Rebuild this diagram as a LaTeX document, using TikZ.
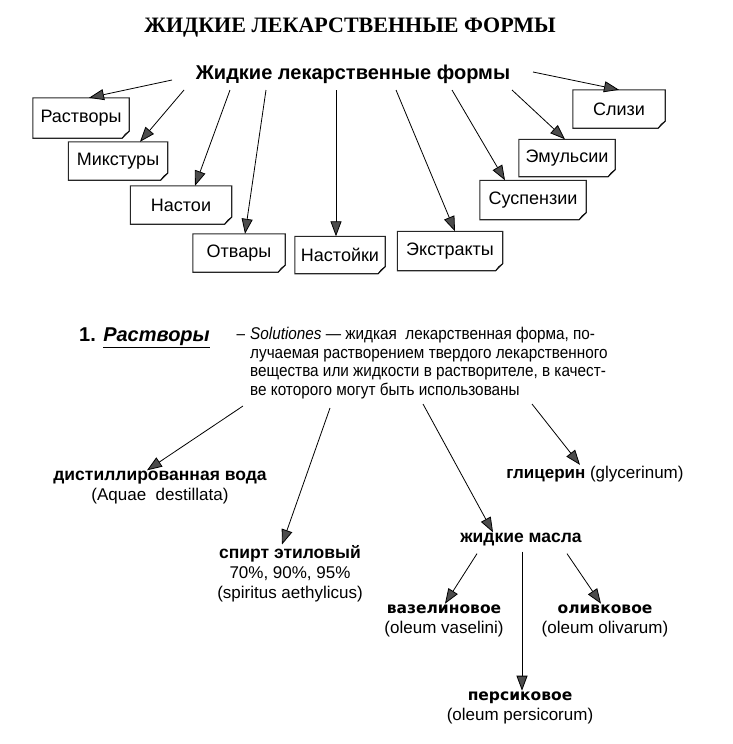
\documentclass[tikz,border=0pt]{standalone}
\usepackage{fontspec}
\setmainfont{Liberation Sans}
\newfontfamily\titlefont{Liberation Serif}
\newfontfamily\widebold{DejaVu Sans}
\newfontfamily\narrowfont[FakeStretch=0.9]{Liberation Sans}
\usetikzlibrary{arrows.meta}
\begin{document}
\begin{tikzpicture}[x=1pt,y=-1pt,
  arr/.style={line width=0.8pt,draw=black,-{Triangle[length=15pt,width=11pt,fill=black!70]}},
  boxt/.style={inner sep=0pt,font=\fontsize{18}{20}\selectfont},
  boxline/.style={line width=1.1pt,draw=black!85},
  lbl/.style={inner sep=1pt,align=center,font=\fontsize{17}{20}\selectfont},
  bl/.style={font=\bfseries\fontsize{17.5}{20}\selectfont},
]
\useasboundingbox (0,0) rectangle (732,744);

\node[font=\titlefont\bfseries\fontsize{22}{26}\selectfont] (title) at (350,28) {ЖИДКИЕ ЛЕКАРСТВЕННЫЕ ФОРМЫ};
\node[font=\bfseries\fontsize{20}{24}\selectfont,inner sep=2pt] (sub) at (353,74) {Жидкие лекарственные формы};

\node[boxt,minimum width=96,minimum height=40] (rast) at (81,118) {Растворы};
\node[boxt,minimum width=99,minimum height=38] (mix) at (118,161) {Микстуры};
\node[boxt,minimum width=101,minimum height=38] (nast) at (181,205) {Настои};
\node[boxt,minimum width=92,minimum height=38] (otv) at (239,253) {Отвары};
\node[boxt,minimum width=90,minimum height=37] (nstk) at (340,255) {Настойки};
\node[boxt,minimum width=105,minimum height=39] (extr) at (450,251) {Экстракты};
\node[boxt,minimum width=106,minimum height=39] (susp) at (533,200) {Суспензии};
\node[boxt,minimum width=96,minimum height=37] (emul) at (567,158) {Эмульсии};
\node[boxt,minimum width=92,minimum height=38] (sliz) at (619,109) {Слизи};

\foreach \n in {rast,mix,nast,otv,nstk,extr,susp,emul,sliz}{
  \draw[boxline] (\n.north west) -- (\n.north east) -- ([yshift=7pt]\n.south east)
    -- ([xshift=-7pt]\n.south east) -- (\n.south west) -- cycle;
  \draw[line width=0.7pt] ([yshift=7pt]\n.south east) -- ([xshift=-4pt,yshift=4pt]\n.south east) -- ([xshift=-7pt]\n.south east);
}

\coordinate (s1) at (172,80);
\coordinate (s2) at (184,90);
\coordinate (s3) at (230,90);
\coordinate (s4) at (266,90);
\coordinate (s5) at (336,90);
\coordinate (s6) at (396,90);
\coordinate (s7) at (452,90);
\coordinate (s8) at (512,90);
\coordinate (s9) at (533,72);
\draw[arr] (s1) -- ([xshift=8pt]rast.north);
\draw[arr] (s2) -- ([xshift=22pt]mix.north);
\draw[arr] (s3) -- ([xshift=14pt]nast.north);
\draw[arr] (s4) -- ([xshift=6pt]otv.north);
\draw[arr] (s5) -- ([xshift=-4pt]nstk.north);
\draw[arr] (s6) -- ([xshift=5pt]extr.north);
\draw[arr] (s7) -- ([xshift=-28pt]susp.north);
\draw[arr] (s8) -- ([xshift=-2pt]emul.north);
\draw[arr] (s9) -- ([xshift=0pt]sliz.north);

% definition
\node[anchor=west,inner sep=0pt,font=\bfseries\fontsize{20}{22}\selectfont] (num) at (79,338) {1. \underline{\itshape Растворы}};
\node[anchor=north west,inner sep=0pt,align=left,font=\narrowfont\fontsize{17}{18.6}\selectfont] (def) at (250,327)
 {\makebox[0pt][r]{–\hspace{5pt}}\textit{Solutiones} — жидкая\ \ лекарственная форма, по-\\
  лучаемая растворением твердого лекарственного\\
  вещества или жидкости в растворителе, в качест-\\
  ве которого могут быть использованы};

\node[lbl] (dist) at (160,488) {{\bfseries\fontsize{17.5}{20}\selectfont дистиллированная вода}\\(Aquae\ \ destillata)};
\node[lbl] (glyc) at (595,474) {{\bfseries глицерин} (glycerinum)};
\node[lbl] (spirt) at (290,574) {{\bfseries\fontsize{17.5}{20}\selectfont спирт этиловый}\\70\%, 90\%, 95\%\\(spiritus aethylicus)};
\node[lbl,bl] (masla) at (521,540) {жидкие масла};
\node[lbl] (vaz) at (444,621) {{\widebold\bfseries\fontsize{15.5}{17}\selectfont вазелиновое}\\(oleum vaselini)};
\node[lbl] (oliv) at (605,621) {{\widebold\bfseries\fontsize{15.5}{17}\selectfont оливковое}\\(oleum olivarum)};
\node[lbl] (pers) at (520,708) {{\widebold\bfseries\fontsize{15.5}{17}\selectfont персиковое}\\(oleum persicorum)};

\coordinate (d1) at (243,406);
\coordinate (d2) at (330,408);
\coordinate (d3) at (423,404);
\coordinate (d4) at (532,404);
\draw[arr] (d1) -- ([xshift=-13pt]dist.north);
\draw[arr] (d2) -- ([xshift=-8pt]spirt.north);
\draw[arr] (d3) -- ([xshift=-28pt]masla.north);
\draw[arr] (d4) -- ([xshift=-15pt]glyc.north);

\draw[arr] ([xshift=-44pt,yshift=-6pt]masla.south) -- ([xshift=1pt]vaz.north);
\draw[arr] ([xshift=1pt,yshift=-4pt]masla.south) -- ([xshift=2pt]pers.north);
\draw[arr] ([xshift=46pt,yshift=-6pt]masla.south) -- ([xshift=-4pt]oliv.north);
\end{tikzpicture}
\end{document}
